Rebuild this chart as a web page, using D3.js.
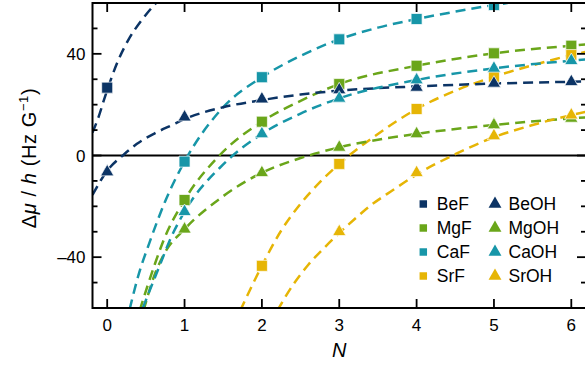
<!DOCTYPE html>
<html>
<head>
<meta charset="utf-8">
<script src="https://cdn.jsdelivr.net/npm/d3@7"></script>
<style>
  body { margin: 0; background: #fff; }
  svg text { font-family: "Liberation Sans", Arial, sans-serif; fill: #000; }
</style>
</head>
<body>
<div id="chart"></div>
<script>
// rotational level N and measured values (null = off the plot)
const levels = [0, 1, 2, 3, 4, 5, 6];
const beF  = [26.7, null, null, null, null, null, null];
const mgF  = [null, -17.5, 13.3, 28.1, 35.3, 40.2, 43.2];
const caF  = [null, -2.4, 30.8, 45.7, 53.7, 59.2, null];
const srF  = [null, null, -43.4, -3.3, 18.3, 31.0, 39.5];
const beOH = [-6.5, 15.1, 22.2, 25.8, 26.8, 28.4, 29.0];
const mgOH = [null, -29.0, -6.8, 3.2, 8.5, 12.0, 14.6];
const caOH = [null, -22.1, 8.5, 22.5, 29.7, 34.3, 37.3];
const srOH = [null, null, null, -30.0, -6.8, 7.7, 15.9];

// dashed fit curves as [N, value]
const fitBeF  = [[-0.19, 9], [-0.11, 15.3], [-0.03, 23], [0.145, 37.6], [0.274, 45.5], [0.447, 53.3], [0.62, 59.6], [0.8, 65]];
const fitBeOH = [[-0.19, -15.5], [0, -6], [0.22, 0.5], [0.38, 4.5], [0.62, 8.8], [0.84, 12], [1, 14.3], [1.5, 19], [2, 21.8], [2.5, 24], [3, 25.5], [4, 27.2], [5, 28.3], [6, 29], [6.19, 29.1]];
const fitCaF  = [[0.29, -60.5], [0.4, -47.5], [0.55, -34], [0.75, -18], [1, -2.4], [1.5, 19], [2, 30.8], [2.5, 39.2], [3, 45.7], [3.5, 50.3], [4, 53.7], [4.5, 56.6], [5, 59.2], [5.4, 61]];
const fitMgF  = [[0.42, -61], [0.62, -42.4], [0.73, -33.3], [1, -17.5], [1.45, 0], [2, 13.3], [2.5, 21.5], [3, 28.1], [4, 35.3], [5, 40.2], [6, 43.2], [6.19, 43.7]];
const fitCaOH = [[0.46, -60], [0.69, -42.4], [0.81, -33.3], [1, -22.1], [1.5, -3.5], [2, 8.5], [2.5, 16.5], [3, 22.5], [4, 29.7], [5, 34.3], [6, 37.3], [6.19, 37.8]];
const fitMgOH = [[0.47, -61], [0.6, -48], [0.75, -38], [1, -29], [1.5, -16], [2, -6.8], [2.5, -1], [3, 3.2], [4, 8.5], [5, 12], [6, 14.6], [6.19, 15]];
const fitSrF  = [[1.72, -61], [2, -43.4], [2.25, -29.5], [2.5, -19], [2.75, -10.5], [3, -3.3], [3.5, 8.5], [4, 18.3], [4.5, 25.5], [5, 31], [5.5, 35.5], [6, 39.5], [6.19, 40.8]];
const fitSrOH = [[2.2, -61], [2.4, -51], [2.6, -43], [2.8, -36.5], [3, -30.5], [3.2, -25], [3.4, -19.8], [3.7, -13.5], [4, -7.5], [4.5, 0.5], [5, 7.2], [5.5, 12], [6, 15.9], [6.19, 17.2]];

const xTicks = [0, 1, 2, 3, 4, 5, 6];
const yMajor = [-40, 0, 40];
const yMinor = [-50, -30, -20, -10, 10, 20, 30, 50];

const colors = { Be: '#0c3465', Mg: '#6aa61a', Ca: '#1796a8', Sr: '#e6b505' };

const series = [
  { name: 'BeF',  values: beF,  fit: fitBeF,  color: colors.Be, shape: 'square' },
  { name: 'MgF',  values: mgF,  fit: fitMgF,  color: colors.Mg, shape: 'square' },
  { name: 'CaF',  values: caF,  fit: fitCaF,  color: colors.Ca, shape: 'square' },
  { name: 'SrF',  values: srF,  fit: fitSrF,  color: colors.Sr, shape: 'square' },
  { name: 'BeOH', values: beOH, fit: fitBeOH, color: colors.Be, shape: 'triangle' },
  { name: 'MgOH', values: mgOH, fit: fitMgOH, color: colors.Mg, shape: 'triangle' },
  { name: 'CaOH', values: caOH, fit: fitCaOH, color: colors.Ca, shape: 'triangle' },
  { name: 'SrOH', values: srOH, fit: fitSrOH, color: colors.Sr, shape: 'triangle' }
];

const width = 585, height = 366;
const plot = { left: 92.5, right: 586, top: 3, bottom: 308 };

const x = d3.scaleLinear().domain([-0.19, 6.19]).range([plot.left, plot.right]);
const y = d3.scaleLinear().domain([-60, 60]).range([plot.bottom, plot.top]);

const svg = d3.select('#chart').append('svg')
  .attr('width', width)
  .attr('height', height);

svg.append('defs').append('clipPath').attr('id', 'clip')
  .append('rect')
  .attr('x', plot.left).attr('y', plot.top)
  .attr('width', plot.right - plot.left).attr('height', plot.bottom - plot.top);

// zero line
svg.append('line')
  .attr('x1', plot.left).attr('x2', plot.right)
  .attr('y1', y(0)).attr('y2', y(0))
  .attr('stroke', '#000').attr('stroke-width', 2);

// fit curves
const line = d3.line()
  .x(d => x(d[0]))
  .y(d => y(d[1]))
  .curve(d3.curveMonotoneX);

const curves = svg.append('g').attr('clip-path', 'url(#clip)');
series.forEach(s => {
  curves.append('path')
    .attr('d', line(s.fit))
    .attr('fill', 'none')
    .attr('stroke', s.color)
    .attr('stroke-width', 2.5)
    .attr('stroke-dasharray', '10,6');
});

// markers
const squareSym = d3.symbol().type(d3.symbolSquare).size(121);
const triSym = d3.symbol().type(d3.symbolTriangle).size(76);

const marks = svg.append('g').attr('clip-path', 'url(#clip)');
series.forEach(s => {
  const pts = levels.map((n, i) => [n, s.values[i]]).filter(d => d[1] !== null);
  marks.selectAll(null)
    .data(pts)
    .enter()
    .append('path')
    .attr('d', s.shape === 'square' ? squareSym() : triSym())
    .attr('transform', d => 'translate(' + x(d[0]) + ',' + y(d[1]) + ')')
    .attr('fill', s.color)
    .attr('stroke', '#fff')
    .attr('stroke-width', 0.7);
});

// frame
svg.append('rect')
  .attr('x', plot.left).attr('y', plot.top)
  .attr('width', plot.right - plot.left).attr('height', plot.bottom - plot.top)
  .attr('fill', 'none')
  .attr('stroke', '#000')
  .attr('stroke-width', 2);

// ticks, all pointing inwards
const tickG = svg.append('g').attr('stroke', '#000').attr('stroke-width', 1.8);
xTicks.forEach(t => {
  tickG.append('line').attr('x1', x(t)).attr('x2', x(t)).attr('y1', plot.bottom).attr('y2', plot.bottom - 9);
  tickG.append('line').attr('x1', x(t)).attr('x2', x(t)).attr('y1', plot.top).attr('y2', plot.top + 9);
});
yMajor.forEach(t => {
  tickG.append('line').attr('x1', plot.left).attr('x2', plot.left + 9).attr('y1', y(t)).attr('y2', y(t));
  tickG.append('line').attr('x1', plot.right).attr('x2', plot.right - 9).attr('y1', y(t)).attr('y2', y(t));
});
yMinor.forEach(t => {
  tickG.append('line').attr('x1', plot.left).attr('x2', plot.left + 5).attr('y1', y(t)).attr('y2', y(t));
  tickG.append('line').attr('x1', plot.right).attr('x2', plot.right - 5).attr('y1', y(t)).attr('y2', y(t));
});

// tick labels
svg.append('g').selectAll('text')
  .data(xTicks)
  .enter()
  .append('text')
  .attr('x', d => x(d))
  .attr('y', 331)
  .attr('text-anchor', 'middle')
  .style('font-size', '17px')
  .text(d => d);

svg.append('g').selectAll('text')
  .data(yMajor)
  .enter()
  .append('text')
  .attr('x', 85.5)
  .attr('y', d => y(d) + 6)
  .attr('text-anchor', 'end')
  .style('font-size', '17px')
  .text(d => d < 0 ? '\u2013' + Math.abs(d) : d);

// axis titles
svg.append('text')
  .attr('x', (plot.left + plot.right) / 2)
  .attr('y', 357)
  .attr('text-anchor', 'middle')
  .style('font-size', '20px')
  .style('font-style', 'italic')
  .text('N');

const yTitle = svg.append('text')
  .attr('transform', 'translate(35.5,158) rotate(-90)')
  .attr('text-anchor', 'middle')
  .style('font-size', '20px')
  .style('letter-spacing', '0.6px');
yTitle.append('tspan').text('\u0394');
yTitle.append('tspan').style('font-style', 'italic').text('\u03bc');
yTitle.append('tspan').text(' / ');
yTitle.append('tspan').style('font-style', 'italic').text('h');
yTitle.append('tspan').text(' (Hz G');
yTitle.append('tspan').attr('dy', -8).style('font-size', '13px').text('\u22121');
yTitle.append('tspan').attr('dy', 8).text(')');

// legend
const legend = svg.append('g');
const legSquare = d3.symbol().type(d3.symbolSquare).size(56);
const legTri = d3.symbol().type(d3.symbolTriangle).size(72);
series.forEach((s, i) => {
  const col = s.shape === 'square' ? 0 : 1;
  const row = i % 4;
  const cx = col === 0 ? 423.3 : 495;
  const cy = 204 + row * 24;
  legend.append('path')
    .attr('d', col === 0 ? legSquare() : legTri())
    .attr('transform', 'translate(' + cx + ',' + cy + ')')
    .attr('fill', s.color);
  legend.append('text')
    .attr('x', cx + 13.5)
    .attr('y', cy + 6.3)
    .style('font-size', '17.5px')
    .text(s.name);
});
</script>
</body>
</html>
